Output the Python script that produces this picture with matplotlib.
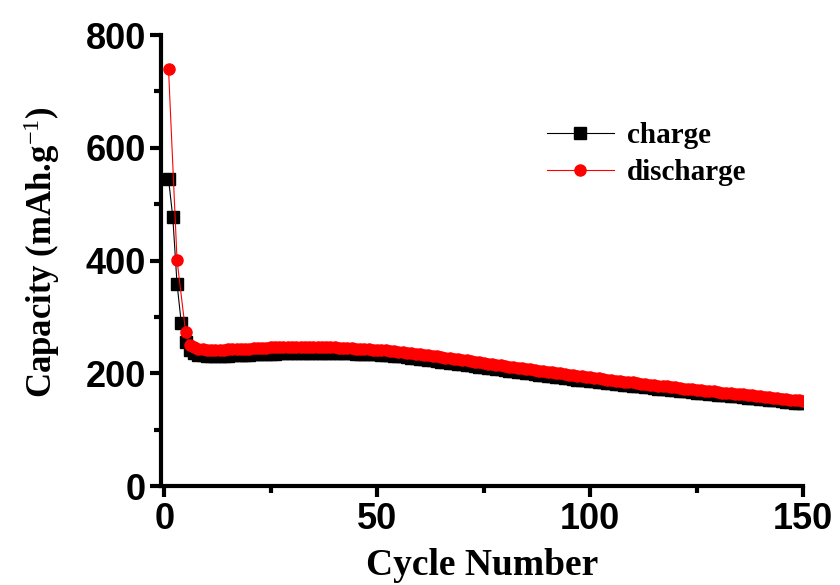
import matplotlib
matplotlib.use("Agg")
import matplotlib.pyplot as plt
from matplotlib.ticker import MultipleLocator

# charge capacity, cycles 1..150
charge_cycles = list(range(1, 151))
charge = [545, 477, 359, 289, 256, 241, 236, 233, 232, 231,
          231, 231, 231, 231, 231, 232, 232, 232, 233, 233,
          234, 234, 234, 235, 235, 235, 236, 236, 236, 236,
          237, 237, 237, 237, 237, 237, 237, 237, 237, 236,
          236, 236, 236, 236, 235, 235, 235, 234, 234, 234,
          233, 233, 232, 231, 231, 230, 229, 228, 227, 226,
          225, 224, 223, 222, 221, 220, 219, 218, 217, 216,
          215, 214, 213, 212, 211, 210, 209, 208, 207, 206,
          205, 204, 203, 202, 201, 200, 199, 198, 197, 196,
          195, 194, 193, 192, 191, 190, 189, 189, 188, 187,
          186, 185, 184, 183, 183, 182, 181, 180, 179, 178,
          177, 177, 176, 175, 174, 173, 172, 172, 171, 170,
          169, 168, 168, 167, 166, 165, 165, 164, 163, 162,
          162, 161, 160, 159, 159, 158, 157, 156, 156, 155,
          154, 153, 153, 152, 151, 150, 149, 148, 148, 148]

# discharge capacity (cycles 2 and 4 not shown in the picture)
discharge_cycles = [1, 3] + list(range(5, 151))
discharge = [740, 401, 274, 250, 246, 244, 243, 242,
             242, 242, 242, 242, 243, 243, 243, 244, 244, 244,
             245, 245, 245, 245, 246, 246, 246, 246, 246, 247,
             247, 247, 247, 246, 246, 246, 246, 246, 246, 246,
             245, 245, 245, 245, 244, 244, 243, 243, 242, 242,
             241, 241, 240, 239, 238, 238, 237, 236, 235, 234,
             233, 232, 231, 230, 229, 228, 227, 226, 225, 224,
             223, 222, 221, 220, 219, 217, 216, 215, 214, 213,
             212, 211, 210, 209, 208, 207, 206, 205, 204, 203,
             202, 201, 200, 199, 198, 197, 196, 195, 194, 193,
             192, 191, 190, 189, 188, 187, 186, 185, 185, 184,
             183, 182, 181, 180, 179, 178, 177, 177, 176, 175,
             174, 173, 172, 172, 171, 170, 169, 169, 168, 167,
             166, 166, 165, 164, 163, 163, 162, 161, 160, 159,
             158, 158, 157, 156, 155, 154, 153, 152, 152, 151]

plt.rcParams['mathtext.fontset'] = 'custom'
plt.rcParams['mathtext.rm'] = 'Liberation Serif'
plt.rcParams['mathtext.it'] = 'Liberation Serif'
plt.rcParams['mathtext.bf'] = 'Liberation Serif:bold'

fig = plt.figure(figsize=(8.4, 5.85), dpi=100)
ax = fig.add_axes([0.192, 0.169, 0.764, 0.771])

ax.plot(charge_cycles, charge, color='black', marker='s', markersize=8,
        linewidth=0.8, label='charge')
ax.plot(discharge_cycles, discharge, color='red', marker='o', markersize=8,
        linewidth=0.8, label='discharge')

ax.set_xlim(-0.7, 150)
ax.set_ylim(0, 800)
ax.xaxis.set_major_locator(MultipleLocator(50))
ax.xaxis.set_minor_locator(MultipleLocator(25))
ax.yaxis.set_major_locator(MultipleLocator(200))
ax.yaxis.set_minor_locator(MultipleLocator(100))

ax.spines['top'].set_visible(False)
ax.spines['right'].set_visible(False)
ax.spines['left'].set_linewidth(3)
ax.spines['bottom'].set_linewidth(3)
ax.tick_params(which='major', length=8, width=3, direction='out')
ax.tick_params(which='minor', length=5, width=3, direction='out')
ax.tick_params(axis='y', pad=3)

for lab in ax.get_xticklabels() + ax.get_yticklabels():
    lab.set_fontfamily('Liberation Sans')
    lab.set_fontweight('bold')
    lab.set_fontsize(26)

ax.set_xlabel('Cycle Number', family='Liberation Serif', fontweight='bold',
              fontsize=27, labelpad=8)
ax.set_ylabel('Capacity (mAh.g$^{-1}$)', family='Liberation Serif',
              fontweight='bold', fontsize=25)
ax.yaxis.set_label_coords(-0.155, 0.52)

ax.legend(loc='upper left', bbox_to_anchor=(0.56, 0.865), frameon=False,
          prop={'family': 'Liberation Serif', 'weight': 'bold', 'size': 21},
          handlelength=2.3, handletextpad=0.45, labelspacing=0.35)

fig.savefig('out.png', dpi=100)
